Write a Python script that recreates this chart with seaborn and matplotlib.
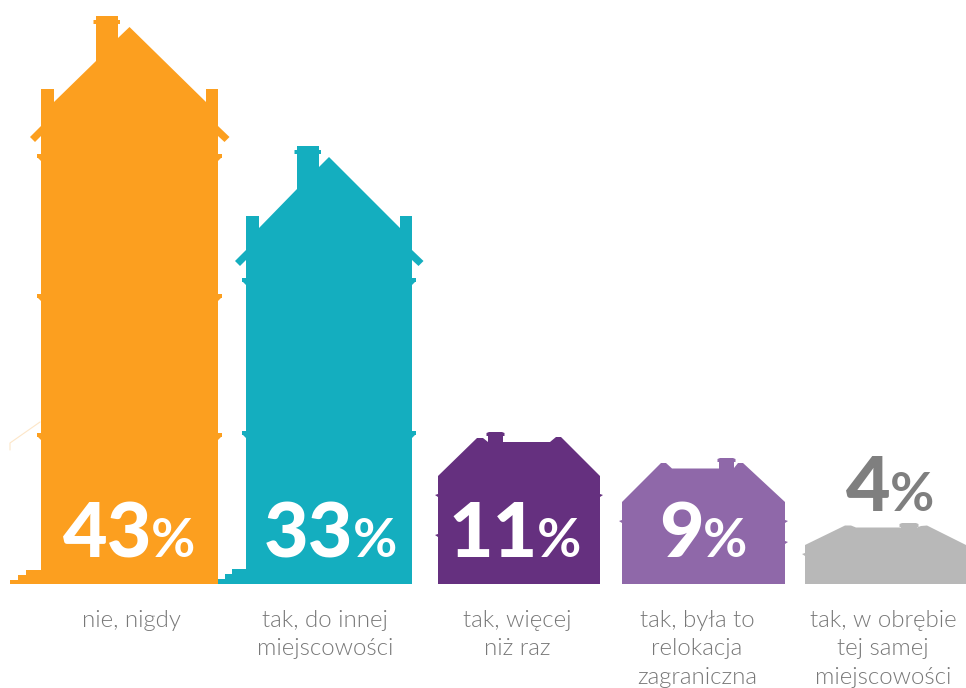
import matplotlib
matplotlib.use("Agg")
import matplotlib.pyplot as plt
from matplotlib import font_manager as fm
from matplotlib.path import Path
import pandas as pd
import seaborn as sns

# Survey answers and their shares in percent
categories = [
    "nie, nigdy",
    "tak, do innej\nmiejscowości",
    "tak, więcej\nniż raz",
    "tak, była to\nrelokacja\nzagraniczna",
    "tak, w obrębie\ntej samej\nmiejscowości",
]
values = [43, 33, 11, 9, 4]

# Layout, in pixels of the 966x688 canvas
centers = [129.5, 329, 519, 703.5, 885.5]
label_x = [131, 325, 517, 697, 883]
colors = ["#FC9F1F", "#14AEBF", "#65307F", "#8F68A9", "#B8B8B8"]
ZERO_PX = 575
PX_PER_PCT = 13.0
GROUND_PX = 584


def to_y(py):
    return (ZERO_PX - py) / PX_PER_PCT


def tall_house(top, left, right, chim_l, chim_r, ridge, d, stairs):
    """Outline of a house with gable towers, eaves and window ledges."""
    cap, junction_l, junction_r, ridge_d, tower, inner, eave, ledges = (
        d["cap"], d["jl"], d["jr"], d["ridge"], d["tower"], d["inner"], d["eave"], d["ledges"]
    )
    fy = lambda dy: top - dy / PX_PER_PCT
    base = to_y(GROUND_PX)
    by = lambda h: base + h / PX_PER_PCT
    pts = [(stairs[0][0], base)]
    for x, h, nx in stairs:
        pts += [(x, by(h)), (nx, by(h))]
    for dy in reversed(ledges):
        pts += [(left, fy(dy + 7)), (left - 3, fy(dy + 4)), (left - 4, fy(dy + 4)),
                (left - 4, fy(dy)), (left, fy(dy))]
    pts += [(left, fy(eave + 10)), (left - 6, fy(eave + 16)), (left - 11, fy(eave + 11)), (left, fy(eave))]
    pts += [(left, fy(tower)), (left + 13, fy(tower)), (left + 13, fy(inner))]
    pts += [(chim_l, fy(junction_l)), (chim_l, fy(cap + 4)), (chim_l - 2.5, fy(cap + 4)), (chim_l - 2.5, fy(cap)),
            (chim_l, fy(cap)), (chim_l, fy(0)), (chim_r, fy(0)), (chim_r, fy(cap)), (chim_r + 2, fy(cap)),
            (chim_r + 2, fy(cap + 4)), (chim_r, fy(cap + 4)), (chim_r, fy(junction_r))]
    pts += [(ridge, fy(ridge_d)), (right - 12, fy(inner)), (right - 12, fy(tower)), (right, fy(tower)), (right, fy(eave))]
    pts += [(right + 11.5, fy(eave + 11)), (right + 6.5, fy(eave + 16)), (right, fy(eave + 10))]
    for dy in ledges:
        pts += [(right, fy(dy)), (right + 4, fy(dy)), (right + 4, fy(dy + 4)), (right + 3, fy(dy + 4)), (right, fy(dy + 7))]
    pts += [(right, base)]
    return pts


def low_house(top, left, right, roof, ledges_l, ledges_r):
    """Outline of a low house: walls plus a roof profile given as (x, depth below top)."""
    fy = lambda dy: top - dy / PX_PER_PCT
    base = to_y(GROUND_PX)
    pts = [(left, base)]
    for dy in reversed(ledges_l):
        pts += [(left, fy(dy + 2)), (left - 3, fy(dy)), (left, fy(dy - 1))]
    pts += [(x, fy(dy)) for x, dy in roof]
    for dy in ledges_r:
        pts += [(right, fy(dy - 1)), (right + 3, fy(dy)), (right, fy(dy + 2))]
    pts += [(right, base)]
    return pts


def chimney(x0, x1, depth):
    return [(x0, depth), (x0, 4), (x0 - 1.5, 4), (x0 - 1.5, 1), (x0 + 1, 0),
            (x1 - 1, 0), (x1 + 1.5, 1), (x1 + 1.5, 4), (x1, 4), (x1, depth)]


outlines = [
    tall_house(values[0], 41, 218, 96, 118, 129.5,
               dict(cap=4, jl=45, jr=22, ridge=11, tower=73, inner=86, eave=110, ledges=[138, 278, 417]),
               [(10, 4, 18), (18, 9, 26), (26, 14, 41)]),
    tall_house(values[1], 246, 412, 297, 319, 329,
               dict(cap=4, jl=43, jr=21, ridge=11, tower=70, inner=82, eave=104, ledges=[132, 285]),
               [(218, 5, 225), (225, 10, 232), (232, 15, 246)]),
    low_house(values[2], 438, 600,
              [(438, 44), (477, 6), (483, 6), (488, 10)] + chimney(488, 503, 10)
              + [(550, 10), (556, 5), (561, 5), (600, 44)], [63, 103], [63]),
    low_house(values[3], 622, 785,
              [(622, 44), (661, 5), (666, 5), (672, 10.5), (719, 10.5)] + chimney(719, 734, 10)
              + [(738, 5), (743, 5), (785, 44)], [63], [63, 84]),
    low_house(values[4], 805, 966,
              [(805, 22), (845, 2.5), (851, 2.5), (856, 4.5), (901, 4.5)] + chimney(901, 917, 4.5)
              + [(921, 3), (927, 2.5), (966, 22)], [31], []),
]

sns.set_style("white")
plt.rcParams["font.family"] = ["Lato", "DejaVu Sans"]

# Lato Light for the captions when its file is present, otherwise the regular cut
light_files = [f.fname for f in fm.fontManager.ttflist
               if f.name == "Lato" and f.fname.endswith("Lato-Light.ttf")]
caption_font = (fm.FontProperties(fname=light_files[0], size=17.3) if light_files
                else fm.FontProperties(family="Lato", size=17.3))
caption_color = "#787878" if light_files else "#8A8A8A"

fig = plt.figure(figsize=(9.66, 6.88), dpi=100)
ax = fig.add_axes([0, 0, 1, 1])

df = pd.DataFrame({"answer": categories, "share": values, "center": centers})
sns.barplot(data=df, x="center", y="share", hue="answer", hue_order=categories,
            palette=colors, native_scale=True, dodge=False, legend=False,
            saturation=1, ax=ax)
ax.set_xlim(0, 966)
ax.set_ylim(to_y(688), to_y(0))
ax.axis("off")

# Each bar spans its value down to the ground step and is cut to a house silhouette
ground = to_y(GROUND_PX)
for bar, value, outline in zip(ax.patches, values, outlines):
    xs = [p[0] for p in outline]
    bar.set_x(min(xs))
    bar.set_width(max(xs) - min(xs))
    bar.set_y(ground)
    bar.set_height(value - ground)
    bar.set_linewidth(0)
    bar.set_clip_path(Path(outline + [outline[0]]), ax.transData)

# Faint sketch line beside the first house
ax.plot([10, 10, 40], [to_y(450), to_y(443), to_y(422)], color="#FDE6C8", lw=0.8)

# Percent figures: big digits with a smaller percent sign beside them
value_split = [152, 353.5, 538, 704, 890.5]
value_base = [557, 557, 557, 557, 511]
value_colors = ["white", "white", "white", "white", "#7F7F7F"]
for value, split, py, color in zip(values, value_split, value_base, value_colors):
    ax.text(split, to_y(py), str(value), ha="right", va="baseline", color=color,
            fontsize=55.5, fontweight="black")
    ax.text(split - 1, to_y(py), "%", ha="left", va="baseline", color=color,
            fontsize=39, fontweight="bold")

# Answer captions below the houses
for name, lx in zip(categories, label_x):
    ax.text(lx, to_y(610), name, ha="center", va="top", color=caption_color,
            fontproperties=caption_font, linespacing=1.43)

fig.savefig("out.png", dpi=100, facecolor="white")
